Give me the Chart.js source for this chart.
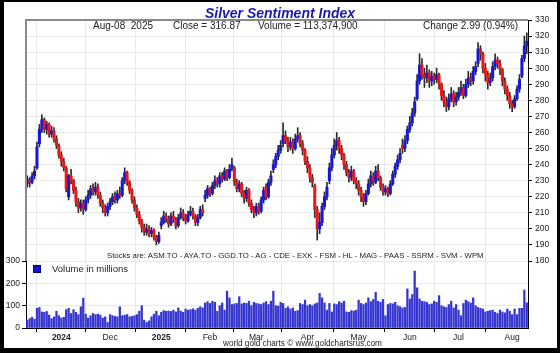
<!DOCTYPE html>
<html>
<head>
<meta charset="utf-8">
<title>Silver Sentiment Index</title>
<script src="https://cdn.jsdelivr.net/npm/chart.js@4.4.1/dist/chart.umd.min.js"></script>
<style>
  html, body { margin: 0; padding: 0; background: #000; }
  #wrap { position: relative; width: 560px; height: 353px; background: #000; overflow: hidden;
          font-family: "Liberation Sans", Arial, sans-serif; }
  #panel { position: absolute; left: 4px; top: 2px; width: 553px; height: 346px; background: #fff; }
  canvas { position: absolute; left: 0; }
  #priceChart { top: 0; }
  #volChart { top: 250px; }
  #frame { position: absolute; left: 25px; top: 19px; width: 503px; height: 242px;
           border-left: 2px solid #8a8a8a; border-top: 2px solid #8a8a8a; box-sizing: border-box; }
  .t { position: absolute; white-space: pre; color: #222; line-height: 1; }
  #title { left: 0; width: 560px; text-align: center; top: 6px; font-size: 14px;
           font-weight: bold; font-style: italic; color: #1a1aa8; }
  .hdr { top: 21px; font-size: 10px; }
  #stocks { left: 107px; top: 252px; font-size: 7.8px; }
  #legBox { position: absolute; left: 33px; top: 265px; width: 6px; height: 6px;
            background: #1414d0; border: 1px solid #000070; }
  #legTxt { left: 52px; top: 264px; font-size: 9.5px; }
  #foot { left: 223px; top: 340px; font-size: 8.2px; }
</style>
</head>
<body>
<div id="wrap">
  <div id="panel"></div>
  <canvas id="priceChart" width="560" height="272"></canvas>
  <canvas id="volChart" width="560" height="103"></canvas>
  <div id="frame"></div>
  <div class="t" id="title">Silver Sentiment Index</div>
  <div class="t hdr" style="left:93px">Aug-08  2025</div>
  <div class="t hdr" style="left:173px">Close = 316.87</div>
  <div class="t hdr" style="left:258px">Volume = 113,374,900</div>
  <div class="t hdr" style="left:423px">Change 2.99 (0.94%)</div>
  <div class="t" id="stocks">Stocks are: ASM.TO - AYA.TO - GGD.TO - AG - CDE - EXK - FSM - HL - MAG - PAAS - SSRM - SVM - WPM</div>
  <div id="legBox"></div>
  <div class="t" id="legTxt">Volume in millions</div>
  <div class="t" id="foot">world gold charts © www.goldchartsrus.com</div>
</div>
<script>
// ===== Data (daily bars, mid Oct 2024 -> Aug 8 2025) =====
const monthIdx = [14, 34, 55, 75, 94, 115, 136, 157, 177, 199];
const monthLabels = ['2024', 'Dec', '2025', 'Feb', 'Mar', 'Apr', 'May', 'Jun', 'Jul', 'Aug'];

const opens = [
  228,230,229,233,238,253,262,268,262,265,
  259,261,256,252,246,242,238,220,233,230,
  224,217,213,216,212,218,221,225,223,226,
  221,216,213,210,214,217,220,218,222,221,
  230,235,229,224,218,213,209,205,201,198,
  200,197,199,195,192,202,204,208,206,203,
  208,206,202,207,210,207,205,209,211,208,
  204,207,212,219,221,225,222,227,230,228,
  233,231,236,232,237,238,229,225,228,222,
  219,224,216,212,210,214,211,218,226,220,
  229,237,240,245,249,253,258,255,251,254,
  250,256,258,253,249,242,238,232,227,212,
  200,204,214,220,230,238,246,252,255,250,
  246,240,235,232,236,230,228,224,220,217,
  222,228,233,229,236,232,226,223,225,222,
  228,234,239,243,252,250,255,262,266,272,
  281,292,302,296,294,297,292,295,293,296,
  290,283,279,276,281,284,279,282,285,288,
  283,290,294,292,298,303,312,309,300,296,
  291,294,301,305,303,299,292,287,283,278,
  276,281,287,295,306,313.88
];
const highs = [
  233,232,235,239,254,265,271,269,267,266,
  264,263,258,253,248,244,239,234,237,231,
  226,219,218,218,220,224,227,228,229,228,
  223,218,215,216,219,222,223,224,226,232,
  238,236,230,225,220,215,211,206,203,203,
  202,201,200,196,198,207,211,210,208,210,
  211,207,209,213,212,209,211,214,213,209,
  209,214,215,224,227,226,229,233,232,235,
  235,238,237,240,244,239,231,230,229,224,
  226,225,218,214,216,216,220,226,228,231,
  236,243,247,252,255,266,261,257,257,256,
  259,263,260,255,250,245,240,234,228,214,
  210,216,223,229,241,250,256,260,257,252,
  247,242,237,239,237,232,230,226,222,224,
  231,236,235,239,240,233,228,227,226,230,
  236,241,246,250,256,258,264,270,275,282,
  296,309,306,300,302,299,298,297,300,297,
  291,286,282,284,288,286,285,288,292,290,
  293,298,297,301,304,316,314,310,303,298,
  297,304,309,307,305,300,294,289,285,280,
  283,289,296,308,320,322
];
const lows = [
  226,226,228,231,237,251,260,260,259,257,
  257,254,250,244,239,236,223,218,228,222,
  214,210,211,209,211,216,219,221,221,219,
  214,210,208,208,212,215,216,216,219,220,
  228,227,222,216,211,207,203,198,196,196,
  195,195,193,190,191,200,203,204,201,202,
  204,200,201,206,205,203,204,208,206,202,
  202,206,208,217,219,220,221,225,226,226,
  229,230,230,231,236,227,223,223,220,216,
  217,214,210,207,208,209,210,216,218,219,
  227,235,238,243,247,251,253,248,249,247,
  249,254,251,246,240,235,229,226,207,193,
  197,202,212,218,228,236,244,249,247,243,
  237,233,229,230,228,225,221,217,214,215,
  221,226,227,228,230,224,221,221,220,221,
  227,232,237,241,247,248,253,260,264,270,
  280,290,293,288,291,288,289,290,291,287,
  280,276,273,274,279,276,277,280,283,281,
  282,288,289,290,296,301,305,297,292,287,
  289,292,299,300,296,289,284,280,275,273,
  275,280,285,294,304,309
];
const closes = [
  231,229,233,236,251,262,268,262,265,259,
  261,256,252,246,242,238,225,233,230,224,
  217,213,216,212,218,221,225,223,226,221,
  216,213,210,214,217,220,218,222,221,230,
  235,229,224,218,213,209,205,201,198,200,
  197,199,195,192,196,204,208,206,203,208,
  206,202,207,210,207,205,209,211,208,204,
  207,212,210,221,225,222,227,230,228,233,
  231,236,232,237,240,229,225,228,222,219,
  224,216,212,210,214,211,218,224,220,229,
  233,240,245,249,252,258,255,251,254,250,
  256,258,253,249,242,238,232,229,212,200,
  204,214,220,226,238,246,252,255,250,246,
  240,235,232,236,230,228,224,220,217,222,
  228,233,229,236,232,226,223,225,222,228,
  234,239,243,247,250,255,262,266,272,279,
  292,302,296,294,297,292,295,293,296,290,
  283,279,276,281,284,279,282,285,288,283,
  290,294,292,298,301,312,309,300,296,291,
  294,301,305,303,299,292,287,283,278,276,
  281,287,293,306,313.88,316.87
];
// volume in millions
const volumes = [
  35,42,48,40,88,92,72,70,74,58,
  42,50,75,55,45,48,82,88,65,82,
  70,60,95,134,62,45,55,65,60,62,
  58,45,50,25,60,55,52,50,95,55,
  58,60,50,52,55,60,75,100,35,25,
  32,50,62,75,55,70,78,75,76,74,
  80,72,90,76,70,85,80,82,86,80,
  88,95,90,112,118,110,120,115,75,100,
  112,80,165,135,105,108,110,140,108,112,
  110,120,100,115,110,108,105,112,118,105,
  120,165,100,98,115,110,88,95,85,90,
  75,78,110,105,125,100,105,100,108,112,
  155,135,112,80,110,72,108,105,118,112,
  120,72,70,78,76,80,125,110,105,112,
  135,118,128,160,120,115,128,55,105,110,
  108,115,100,95,90,92,175,130,150,255,
  180,130,120,118,115,105,108,120,115,145,
  100,95,92,105,120,90,105,80,55,110,
  125,118,112,135,100,92,88,85,72,75,
  78,80,70,65,80,72,68,85,75,60,
  85,60,88,88,170,113
];

const FONT = '"Liberation Sans", Arial, sans-serif';
const UP = '#1818d4';
const DOWN = '#e81818';
const GRID = '#e9e9e9';
const N = closes.length;
const idx = closes.map((_, i) => i);

const monthAxis = () => ({
  type: 'linear',
  min: -0.5,
  max: N - 0.5,
  offset: false,
  afterBuildTicks: s => { s.ticks = monthIdx.map(v => ({ value: v })); }
});

// ===== Price (candles) =====
new Chart(document.getElementById('priceChart'), {
  type: 'bar',
  data: {
    datasets: [
      {
        data: idx.map(i => ({ x: i, y: [lows[i], highs[i]] })),
        backgroundColor: '#2a2a2a',
        barThickness: 1,
        grouped: false,
        order: 2
      },
      {
        data: idx.map(i => ({ x: i, y: [opens[i], closes[i]] })),
        backgroundColor: idx.map(i => closes[i] >= opens[i] ? UP : DOWN),
        barThickness: 2.4,
        minBarLength: 1,
        grouped: false,
        order: 1
      }
    ]
  },
  options: {
    responsive: false,
    animation: false,
    layout: { padding: { left: 26, top: 20, right: 0, bottom: 11 } },
    plugins: { legend: { display: false }, tooltip: { enabled: false } },
    scales: {
      x: {
        ...monthAxis(),
        ticks: { display: false },
        grid: { color: GRID, drawTicks: false },
        border: { display: true, color: '#000' },
        afterFit: s => { s.height = 0; }
      },
      y: {
        position: 'right',
        min: 180, max: 330,
        ticks: { stepSize: 10, color: '#222', padding: 3, font: { family: FONT, size: 8.5 } },
        grid: { color: GRID, tickColor: '#000', tickLength: 4 },
        border: { color: '#000' },
        afterFit: s => { s.width = 32; }
      }
    }
  }
});

// ===== Volume =====
new Chart(document.getElementById('volChart'), {
  type: 'bar',
  data: {
    datasets: [{
      data: idx.map(i => ({ x: i, y: volumes[i] })),
      backgroundColor: '#3535cf',
      barThickness: 1.6
    }]
  },
  options: {
    responsive: false,
    animation: false,
    layout: { padding: { left: 0, top: 11, right: 0, bottom: 0 } },
    plugins: { legend: { display: false }, tooltip: { enabled: false } },
    scales: {
      x: {
        ...monthAxis(),
        ticks: {
          autoSkip: false, maxRotation: 0, padding: 1, color: '#222',
          font: ctx => ({ family: FONT, size: 8.5, weight: /^\d/.test(monthLabels[ctx.index] || '') ? 'bold' : 'normal' }),
          callback: v => monthLabels[monthIdx.indexOf(v)]
        },
        grid: { color: GRID, tickColor: '#000', tickLength: 4 },
        border: { color: '#000' },
        afterFit: s => { s.height = 25; }
      },
      y: {
        position: 'left',
        min: 0, max: 300,
        ticks: { stepSize: 100, color: '#222', padding: 2, font: { family: FONT, size: 8.5 } },
        grid: { color: GRID, tickColor: '#000', tickLength: 4 },
        border: { color: '#000' },
        afterFit: s => { s.width = 26; }
      },
      yR: {
        position: 'right',
        min: 0, max: 300,
        ticks: { display: false },
        grid: { display: false },
        border: { color: '#000' },
        afterFit: s => { s.width = 32; }
      }
    }
  }
});
</script>
</body>
</html>
